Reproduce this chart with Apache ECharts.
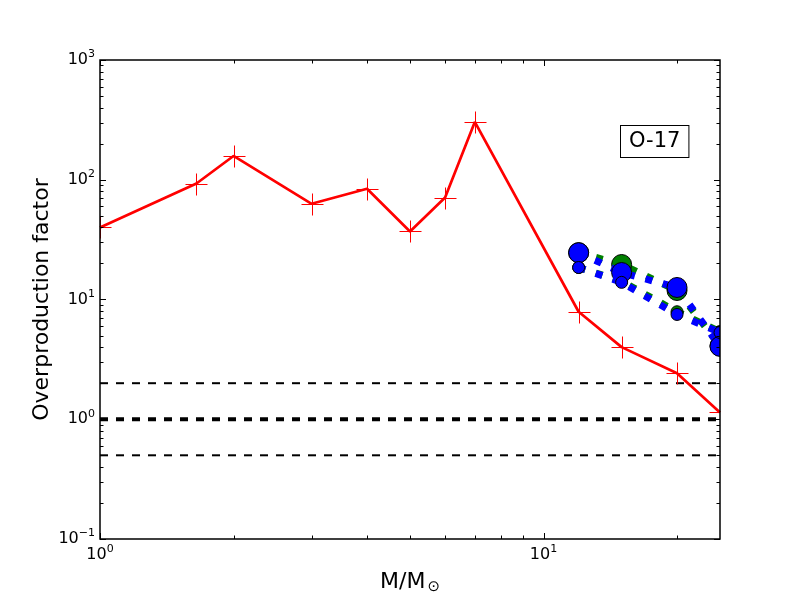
<!DOCTYPE html>
<html><head><meta charset="utf-8">
<script src="https://cdn.jsdelivr.net/npm/echarts@6/dist/echarts.min.js"></script>
<style>html,body{margin:0;padding:0;background:#fff}#c{width:800px;height:600px}</style>
</head><body><div id="c"></div>
<script>
// ---------- data ----------
const masses = [1, 1.65, 2, 3, 4, 5, 6, 7, 12, 15, 20, 25];
const redValues = [40, 93, 158, 63, 84, 37, 71, 304, 7.9, 4.0, 2.42, 1.14];
const massiveMasses = [12, 15, 20, 25];
const greenUpper = [24.6, 19.6, 11.9, 4.1];
const blueUpper = [24.6, 16.8, 12.6, 4.06];
const greenLower = [18.5, 14.2, 7.9, 5.4];
const blueLower = [18.5, 13.9, 7.5, 5.3];
const refLevels = [2, 1, 0.5];
const xRange = [1, 25];
const yRange = [0.1, 1000];
const xMajorTicks = [1, 10];
const xMinorTicks = [2, 3, 4, 5, 6, 7, 8, 9, 20];
const yMajorTicks = [0.1, 1, 10, 100, 1000];
const yMinorTicks = [];
[0.1, 1, 10, 100].forEach(d => { for (let k = 2; k <= 9; k++) yMinorTicks.push(+(d * k).toPrecision(3)); });
const boxLabel = 'O-17';
const xName = 'M/M{s|⊙}';
const yName = 'Overproduction factor';

const FONT = 'DejaVu Sans';
const RED = '#ff0000', BLUE = '#0000ff', GREEN = '#008000';

function powLabel(v) {
  const l = Math.log10(v);
  const e = Math.round(l);
  if (Math.abs(l - e) > 1e-6) return '';
  return '{b|10}{s|' + (e < 0 ? '\u2212' + (-e) : e) + '}';
}
const labelRich = {
  b: { fontSize: 16, fontFamily: FONT, color: '#000', lineHeight: 22 },
  s: { fontSize: 11, fontFamily: FONT, color: '#000', lineHeight: 11, verticalAlign: 'top' }
};

function lineSeries(xs, ys, color, width, dash, z) {
  return {
    type: 'line', z: z, clip: true, symbol: 'none', silent: true,
    data: xs.map((x, i) => [x, ys[i]]),
    lineStyle: { color: color, width: width, type: dash || 'solid', cap: 'butt' }
  };
}
function markerSeries(xs, ys, kind, size, color, z) {
  return {
    type: 'custom', z: z, clip: true, silent: true,
    encode: { x: 0, y: 1 },
    data: xs.map((x, i) => [x, ys[i]]),
    renderItem: function (params, api) {
      const p = api.coord([api.value(0), api.value(1)]);
      const h = size / 2;
      if (kind === 'plus') {
        const cx = Math.round(p[0]) + 0.5, cy = Math.round(p[1]) + 0.5;
        return { type: 'group', children: [
          { type: 'line', shape: { x1: cx - h, y1: cy, x2: cx + h, y2: cy }, style: { stroke: color, lineWidth: 1 } },
          { type: 'line', shape: { x1: cx, y1: cy - h, x2: cx, y2: cy + h }, style: { stroke: color, lineWidth: 1 } }
        ] };
      }
      return { type: 'circle', shape: { cx: p[0], cy: p[1], r: h }, style: { fill: color, stroke: '#000', lineWidth: 1 } };
    }
  };
}
function tickSeries(values, axis, len) {
  return {
    type: 'custom', z: 20, clip: false, silent: true,
    encode: { x: 0, y: 1 },
    data: values.map(v => axis === 'x' ? [v, 1] : [1, v]),
    renderItem: function (params, api) {
      const cs = params.coordSys;
      const p = api.coord([api.value(0), api.value(1)]);
      const st = { stroke: '#000', lineWidth: 1 };
      if (axis === 'x') {
        const x = Math.round(p[0]) + 0.5;
        return { type: 'group', children: [
          { type: 'line', shape: { x1: x, y1: cs.y + cs.height, x2: x, y2: cs.y + cs.height - len }, style: st },
          { type: 'line', shape: { x1: x, y1: cs.y, x2: x, y2: cs.y + len }, style: st }
        ] };
      }
      const y = Math.round(p[1]) + 0.5;
      return { type: 'group', children: [
        { type: 'line', shape: { x1: cs.x, y1: y, x2: cs.x + len, y2: y }, style: st },
        { type: 'line', shape: { x1: cs.x + cs.width, y1: y, x2: cs.x + cs.width - len, y2: y }, style: st }
      ] };
    }
  };
}
const frameSeries = {
  type: 'custom', z: 30, clip: false, silent: true,
  encode: { x: 0, y: 1 },
  data: [[xRange[0], yRange[0]]],
  renderItem: function (params, api) {
    const cs = params.coordSys;
    return { type: 'rect', shape: { x: cs.x, y: cs.y, width: cs.width, height: cs.height },
      style: { fill: null, stroke: '#000', lineWidth: 1.5 } };
  }
};

const series = [];
refLevels.forEach(lv => series.push(lineSeries(xRange, [lv, lv], '#000', lv === 1 ? 4 : 2, [8, 8], 1)));
series.push(lineSeries(masses, redValues, RED, 2.7, null, 2));
series.push(markerSeries(masses, redValues, 'plus', 22, RED, 3));
series.push(lineSeries(massiveMasses, greenUpper, GREEN, 7, [7, 11], 4));
series.push(markerSeries(massiveMasses, greenUpper, 'circle', 20, GREEN, 5));
series.push(lineSeries(massiveMasses, greenLower, GREEN, 7, [7, 11], 6));
series.push(markerSeries(massiveMasses, greenLower, 'circle', 12, GREEN, 7));
series.push(lineSeries(massiveMasses, blueUpper, BLUE, 7, [7, 11], 8));
series.push(markerSeries(massiveMasses, blueUpper, 'circle', 20, BLUE, 9));
series.push(lineSeries(massiveMasses, blueLower, BLUE, 7, [7, 11], 10));
series.push(markerSeries(massiveMasses, blueLower, 'circle', 12, BLUE, 11));
series.push(tickSeries(xMajorTicks, 'x', 6));
series.push(tickSeries(xMinorTicks, 'x', 3.5));
series.push(tickSeries(yMajorTicks, 'y', 6));
series.push(tickSeries(yMinorTicks, 'y', 3.5));
series.push(frameSeries);

const chart = echarts.init(document.getElementById('c'), null, { renderer: 'canvas' });
chart.setOption({
  animation: false,
  backgroundColor: '#fff',
  grid: { left: 100, right: 80, top: 60, bottom: 60, show: false },
  xAxis: {
    type: 'log', logBase: 10, min: xRange[0], max: xRange[1],
    axisLine: { show: false }, axisTick: { show: false }, splitLine: { show: false },
    axisLabel: { formatter: powLabel, rich: labelRich, margin: 5, showMaxLabel: false },
    name: xName, nameLocation: 'middle', nameGap: 30,
    nameTextStyle: { fontSize: 22, fontFamily: FONT, color: '#000',
      rich: { s: { fontSize: 15, fontFamily: FONT, color: '#000', verticalAlign: 'bottom', padding: [11, 0, 0, 2] } } }
  },
  yAxis: {
    type: 'log', logBase: 10, min: yRange[0], max: yRange[1],
    axisLine: { show: false }, axisTick: { show: false }, splitLine: { show: false },
    axisLabel: { formatter: powLabel, rich: labelRich, margin: 5 },
    name: yName, nameLocation: 'middle', nameGap: 47, nameMoveOverlap: false,
    nameTextStyle: { fontSize: 22, fontFamily: FONT, color: '#000' }
  },
  graphic: [{
    type: 'text', left: 620, top: 125, z: 40,
    style: { text: boxLabel, font: '21px "DejaVu Sans"', fill: '#000', backgroundColor: '#fff',
      borderColor: '#000', borderWidth: 1, padding: [5, 8, 5, 8] }
  }],
  series: series
});
</script>
</body></html>
